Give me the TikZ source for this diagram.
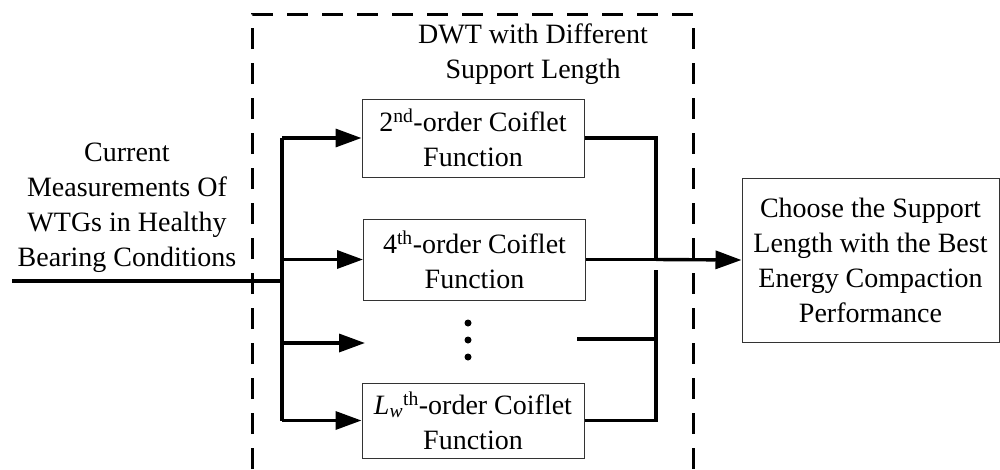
\documentclass[tikz,border=0pt]{standalone}
\usepackage{fontspec}
\setmainfont{Liberation Serif}
\usetikzlibrary{arrows.meta}
\tikzset{
  fbox/.style={draw=black!80, line width=1pt, minimum width=222pt, minimum height=78pt, inner sep=0pt, align=center, font=\fontsize{28}{35}\selectfont},
  lbl/.style={align=center, inner sep=0pt, font=\fontsize{28}{35}\selectfont},
  conn/.style={line width=3.4pt},
  arr/.style={line width=3.4pt, -{Triangle[length=26pt,width=18pt]}},
  dashbox/.style={line width=3pt, dash pattern=on 21pt off 14pt},
  dot/.style={circle, fill=black, inner sep=0pt, minimum size=7pt}
}
\begin{document}
\begin{tikzpicture}[x=1pt,y=-1pt]
\useasboundingbox (0,0) rectangle (1000,469);
% dashed enclosure
\draw[dashbox] (252,469) -- (252,14) -- (693,14) -- (693,469);
\node[lbl] (dwt) at (533,54) {DWT with Different\\Support Length};
% input text
\node[lbl] (inp) at (127,208) {Current\\Measurements Of\\WTGs in Healthy\\Bearing Conditions};
% boxes
\node[fbox] (b1) at (473,138) {2\textsuperscript{nd}-order Coiflet\\Function};
\node[fbox, minimum height=81pt] (b2) at (474.5,259.5) {4\textsuperscript{th}-order Coiflet\\Function};
\node[fbox, minimum height=75pt] (b3) at (473,420.5) {\textit{L}\textsubscript{\textit{w}}\textsuperscript{th}-order Coiflet\\Function};
\node[draw=black!80, line width=1pt, minimum width=257pt, minimum height=164pt, inner sep=0pt, align=center, font=\fontsize{28}{35}\selectfont] (out) at (870.5,260) {Choose the Support\\Length with the Best\\Energy Compaction\\Performance};
% dots
\node[dot] (d1) at (468,323) {};
\node[dot] (d2) at (468,340) {};
\node[dot] (d3) at (468,357) {};
% left bus
\coordinate (in) at (12,281);
\coordinate (bj) at (282,281);
\coordinate (bt) at (282,138);
\coordinate (bb) at (282,420.5);
\coordinate (bm2) at (282,259.5);
\coordinate (bm3) at (282,343);
\coordinate (tip3) at (365,343);
\draw[conn] (in) -- (bj);
\draw[conn] (bt) -- (bb);
\draw[arr] (bt) -- (b1.west);
\draw[arr] (bm2) -- (b2.west);
\draw[arr] (bm3) -- (tip3);
\draw[arr] (bb) -- (b3.west);
% right bus
\coordinate (rt) at (656,138);
\coordinate (rj) at (656,259.5);
\coordinate (rg) at (656,270);
\coordinate (rb) at (656,420.5);
\coordinate (r3) at (656,339);
\coordinate (s3) at (577,339);
\draw[conn] (b1.east) -- (rt) -- (rj);
\draw[conn] (rg) -- (rb) -- (b3.east);
\draw[conn] (s3) -- (r3);
\draw[conn] (b2.east) -- (rj);
\draw[arr] (rj) -- (out.west);
\end{tikzpicture}
\end{document}
